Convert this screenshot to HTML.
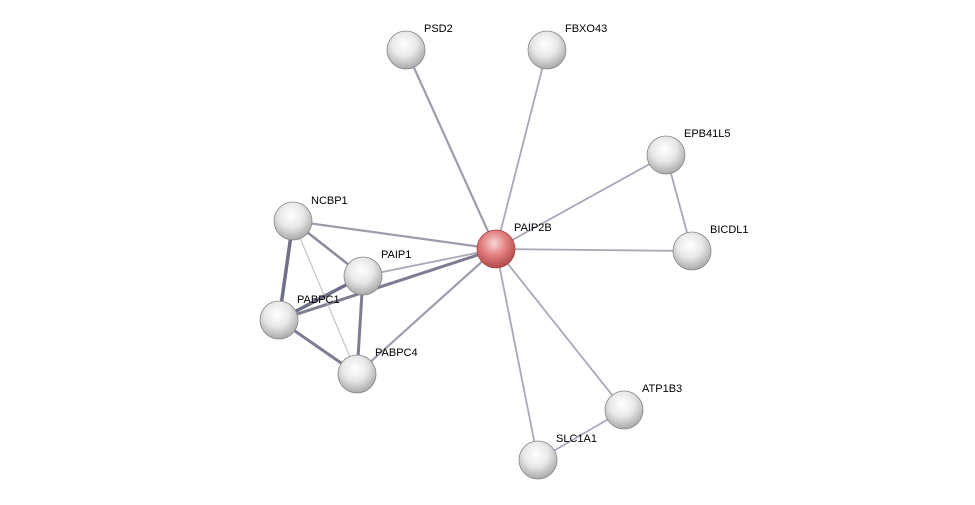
<!DOCTYPE html>
<html><head><meta charset="utf-8"><style>
html,body{margin:0;padding:0;background:#fff;}
svg{display:block;}
text{font-family:"Liberation Sans",sans-serif;font-size:11px;fill:#000;}
</style></head><body>
<svg width="975" height="505" viewBox="0 0 975 505" xmlns="http://www.w3.org/2000/svg">
<defs>
<radialGradient id="g" cx="45%" cy="35%" r="65%">
<stop offset="0" stop-color="#ffffff"/><stop offset="0.5" stop-color="#e8e8e8"/><stop offset="1" stop-color="#a9a9a9"/>
</radialGradient>
<radialGradient id="r" cx="45%" cy="35%" r="65%">
<stop offset="0" stop-color="#f9d6d6"/><stop offset="0.5" stop-color="#e27f7f"/><stop offset="1" stop-color="#b24a4a"/>
</radialGradient>
<linearGradient id="hl" x1="0" y1="0" x2="0" y2="1">
<stop offset="0" stop-color="#fff" stop-opacity="0.9"/><stop offset="1" stop-color="#fff" stop-opacity="0"/>
</linearGradient>
</defs>
<g stroke-linecap="round">
<g stroke="#9c9cab" stroke-width="2.2">
<line x1="496" y1="249" x2="406" y2="50"/>
<line x1="496" y1="249" x2="293" y2="221"/>
<line x1="496" y1="249" x2="357" y2="374"/>
</g>
<g stroke="#a8a8b8" stroke-width="1.8">
<line x1="496" y1="249" x2="547" y2="50"/>
<line x1="496" y1="249" x2="666" y2="155"/>
<line x1="496" y1="249" x2="692" y2="251"/>
<line x1="496" y1="249" x2="624" y2="410"/>
<line x1="496" y1="249" x2="538" y2="460"/>
<line x1="496" y1="249" x2="363" y2="276"/>
<line x1="666" y1="155" x2="692" y2="251"/>
<line x1="624" y1="410" x2="538" y2="460"/>
</g>
<line x1="496" y1="249" x2="279" y2="320" stroke="#7d7d92" stroke-width="3"/>
<line x1="293" y1="221" x2="363" y2="276" stroke="#8a8a9e" stroke-width="2.5"/>
<line x1="293" y1="221" x2="279" y2="320" stroke="#6f7088" stroke-width="3.5"/>
<line x1="293" y1="221" x2="357" y2="374" stroke="#c4c4cc" stroke-width="1.2"/>
<line x1="363" y1="276" x2="279" y2="320" stroke="#6f7088" stroke-width="3.5"/>
<line x1="363" y1="276" x2="357" y2="374" stroke="#7d7d92" stroke-width="3"/>
<line x1="279" y1="320" x2="357" y2="374" stroke="#7d7d92" stroke-width="3"/>
</g>
<g stroke="#888" stroke-width="0.8">
<circle cx="406" cy="50" r="19" fill="url(#g)"/>
<circle cx="547" cy="50" r="19" fill="url(#g)"/>
<circle cx="666" cy="155" r="19" fill="url(#g)"/>
<circle cx="692" cy="251" r="19" fill="url(#g)"/>
<circle cx="293" cy="221" r="19" fill="url(#g)"/>
<circle cx="363" cy="276" r="19" fill="url(#g)"/>
<circle cx="279" cy="320" r="19" fill="url(#g)"/>
<circle cx="357" cy="374" r="19" fill="url(#g)"/>
<circle cx="624" cy="410" r="19" fill="url(#g)"/>
<circle cx="538" cy="460" r="19" fill="url(#g)"/>
<circle cx="496" cy="249" r="19" fill="url(#r)" stroke="#a44"/>
</g>
<g>
<text x="424" y="32">PSD2</text>
<text x="565" y="32">FBXO43</text>
<text x="684" y="137">EPB41L5</text>
<text x="710" y="233">BICDL1</text>
<text x="514" y="231">PAIP2B</text>
<text x="311" y="204">NCBP1</text>
<text x="381" y="258">PAIP1</text>
<text x="297" y="303">PABPC1</text>
<text x="375" y="356">PABPC4</text>
<text x="642" y="392">ATP1B3</text>
<text x="556" y="442">SLC1A1</text>
</g>
</svg>
</body></html>
